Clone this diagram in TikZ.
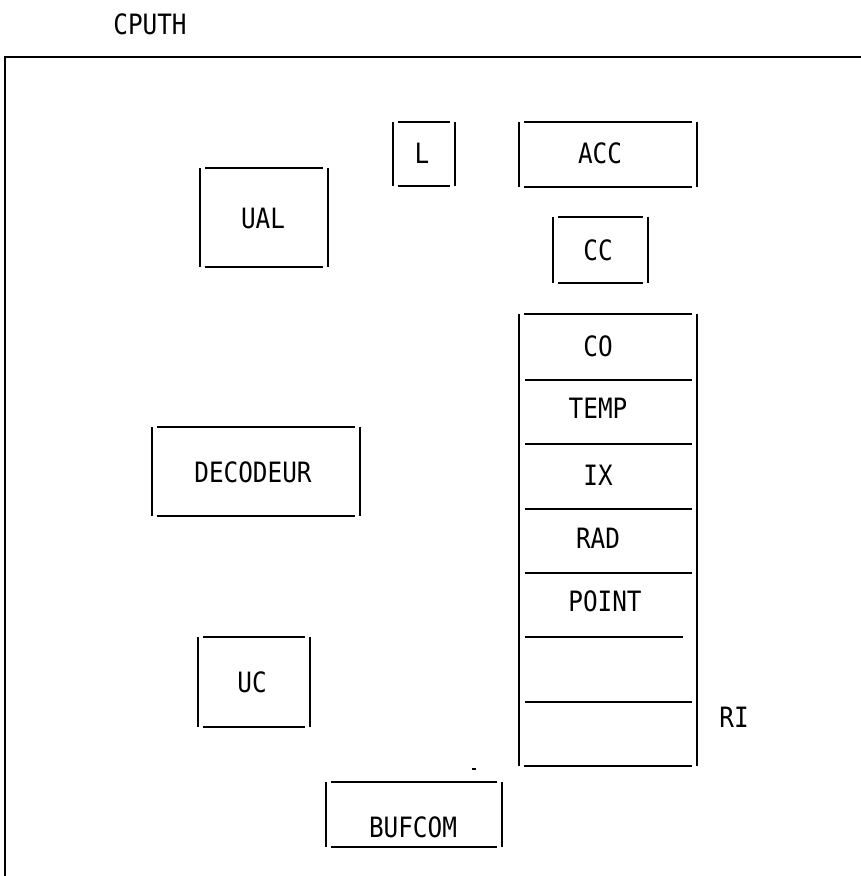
\documentclass[tikz,border=0pt]{standalone}
\usepackage{fontspec}
\setmainfont{DejaVu Sans Mono}[FakeStretch=0.87]
\tikzset{
  boxline/.style={line width=2.4pt, line cap=butt},
  txt/.style={inner sep=0pt, font=\fontsize{28}{30}\selectfont},
}
\newcommand\framelines[1]{%
  \draw[boxline] (#1.north west)--(#1.south west)
                 (#1.north east)--(#1.south east)
                 ([xshift=5pt]#1.north west)--([xshift=-5pt]#1.north east)
                 ([xshift=5pt]#1.south west)--([xshift=-5pt]#1.south east);}
\begin{document}
\begin{tikzpicture}[x=1pt,y=-1pt]
\useasboundingbox (0,0) rectangle (861,876);
% title
\node[txt] (cputh) at (150,24) {CPUTH};
% outer frame
\coordinate (fr0) at (5,876);
\coordinate (fr1) at (5,57);
\coordinate (fr2) at (861,57);
\draw[boxline] (fr0) -- (fr1) -- (fr2);
% boxes
\node[inner sep=0pt, minimum width=62pt, minimum height=64pt] (lbox) at (424,154) {};
\node[txt] (lt) at (422,153) {L};
\framelines{lbox}
\node[inner sep=0pt, minimum width=178pt, minimum height=65pt] (acc) at (608,154.5) {};
\node[txt] (acct) at (600,153) {ACC};
\framelines{acc}
\node[inner sep=0pt, minimum width=128pt, minimum height=99pt] (ual) at (264,217.5) {};
\node[txt] (ualt) at (263,218) {UAL};
\framelines{ual}
\node[inner sep=0pt, minimum width=95pt, minimum height=66pt] (cc) at (600.5,250) {};
\node[txt] (cct) at (598,250) {CC};
\framelines{cc}
\node[inner sep=0pt, minimum width=208pt, minimum height=89pt] (dec) at (256,471.5) {};
\node[txt] (dect) at (253,472) {DECODEUR};
\framelines{dec}
\node[inner sep=0pt, minimum width=112pt, minimum height=90pt] (uc) at (254,682) {};
\node[txt] (uct) at (252,682) {UC};
\framelines{uc}
\node[inner sep=0pt, minimum width=176pt, minimum height=65pt] (buf) at (414,814.5) {};
\node[txt] (buft) at (413,827) {BUFCOM};
\framelines{buf}
% register stack RI
\node[inner sep=0pt, minimum width=178pt, minimum height=452pt] (ri) at (608,540) {};
\framelines{ri}
\foreach \yy/\xe in {380/692,444/692,509/692,573/692,637/683,702/692}{
  \draw[boxline] (525,\yy) -- (\xe,\yy);
}
\node[txt] (co) at (598,346) {CO};
\node[txt] (temp) at (598,408) {TEMP};
\node[txt] (ix) at (598,475) {IX};
\node[txt] (rad) at (598,538) {RAD};
\node[txt] (point) at (605,601) {POINT};
\node[txt] (rit) at (734,717) {RI};
% stray mark
\draw[line width=1.5pt] (472,769) -- (476,769);
\end{tikzpicture}
\end{document}
